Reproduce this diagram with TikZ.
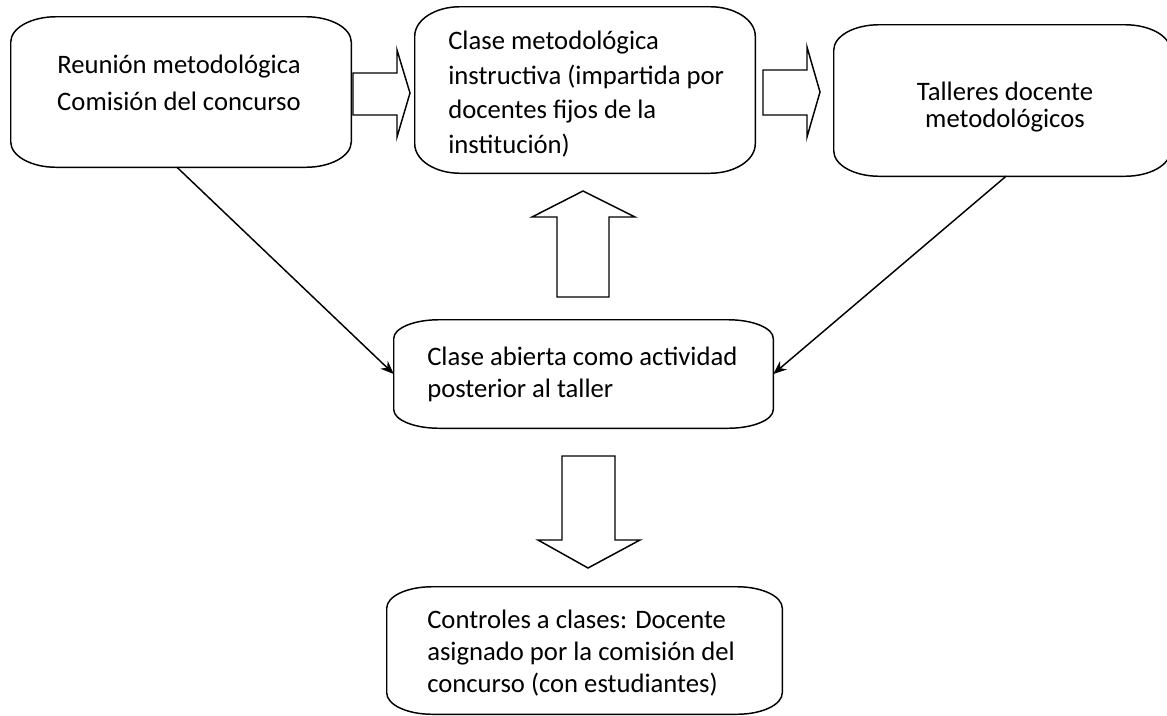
\documentclass[tikz,border=0pt]{standalone}
\usepackage{fontspec}
\setmainfont{Carlito}
\usetikzlibrary{arrows.meta,fit}
\tikzset{
  boxn/.style={inner sep=0pt, draw=none},
  txt/.style={font=\fontsize{20}{26}\selectfont, align=left, inner sep=0pt},
  ctxt/.style={font=\fontsize{20}{26}\selectfont, align=center, inner sep=0pt},
  blockarrow/.style={draw, line width=1.1pt, fill=white, line join=miter},
  conn/.style={line width=1.1pt, -{Stealth[length=10pt,width=8pt]}},
  outline/.style={draw, line width=1.1pt}
}
\newcommand{\rrbox}[3]{%
  \draw[outline] ([xshift=#2]#1.north west) -- ([xshift=-#2]#1.north east)
    arc[start angle=90,end angle=0,x radius=#2,y radius=#3]
    -- ([yshift=#3]#1.south east)
    arc[start angle=0,end angle=-90,x radius=#2,y radius=#3]
    -- ([xshift=#2]#1.south west)
    arc[start angle=270,end angle=180,x radius=#2,y radius=#3]
    -- ([yshift=-#3]#1.north west)
    arc[start angle=180,end angle=90,x radius=#2,y radius=#3] -- cycle;}
\begin{document}
\begin{tikzpicture}[x=0.75pt,y=0.75pt]
\useasboundingbox (0,0) rectangle (1167,-715);
% boxes
\node[boxn, fit={(11,-17) (351,-167)}] (b1) {};
\node[boxn, fit={(415,-7) (755,-173)}] (b2) {};
\node[boxn, fit={(834,-25) (1170,-176)}] (b3) {};
\node[boxn, fit={(394,-320) (773,-428)}] (b4) {};
\node[boxn, fit={(387,-587) (782,-714)}] (b5) {};
\rrbox{b1}{34pt}{19pt}
\rrbox{b2}{34pt}{22pt}
\rrbox{b3}{34pt}{19pt}
\rrbox{b4}{34pt}{14pt}
\rrbox{b5}{34pt}{16pt}
% texts
\node[ctxt, font=\fontsize{20}{28}\selectfont] (t1) at (179,-83) {Reunión metodológica\\Comisión del concurso};
\node[txt, anchor=west] (t2) at (448,-94) {Clase metodológica\\instructiva (impartida por\\docentes fijos de la\\institución)};
\node[ctxt, font=\fontsize{20}{20}\selectfont] (t3) at (1005,-107) {Talleres docente\\metodológicos};
\node[txt, font=\fontsize{20}{24}\selectfont, anchor=west] (t4) at (427,-374) {Clase abierta como actividad\\posterior al taller};
\node[txt, font=\fontsize{20}{24}\selectfont, anchor=west] (t5) at (427,-653) {Controles a clases: Docente\\asignado por la comisión del\\concurso (con estudiantes)};
% block arrows
\draw[blockarrow] (353,-73) -- (397,-73) -- (397,-50) -- (410,-93) -- (397,-137) -- (397,-115) -- (353,-115) -- cycle;
\draw[blockarrow] (763,-70) -- (807,-70) -- (807,-47) -- (820,-92) -- (807,-137) -- (807,-115) -- (763,-115) -- cycle;
\draw[blockarrow] (557,-297) -- (557,-217) -- (532,-217) -- (583,-191) -- (635,-217) -- (609,-217) -- (609,-297) -- cycle;
\draw[blockarrow] (562,-456) -- (615,-456) -- (615,-540) -- (640,-540) -- (588,-568) -- (538,-540) -- (562,-540) -- cycle;
% connectors
\draw[conn] ([xshift=-3pt]b1.south) -- (b4.west);
\draw[conn] ([xshift=3pt]b3.south) -- (b4.east);
\end{tikzpicture}
\end{document}
